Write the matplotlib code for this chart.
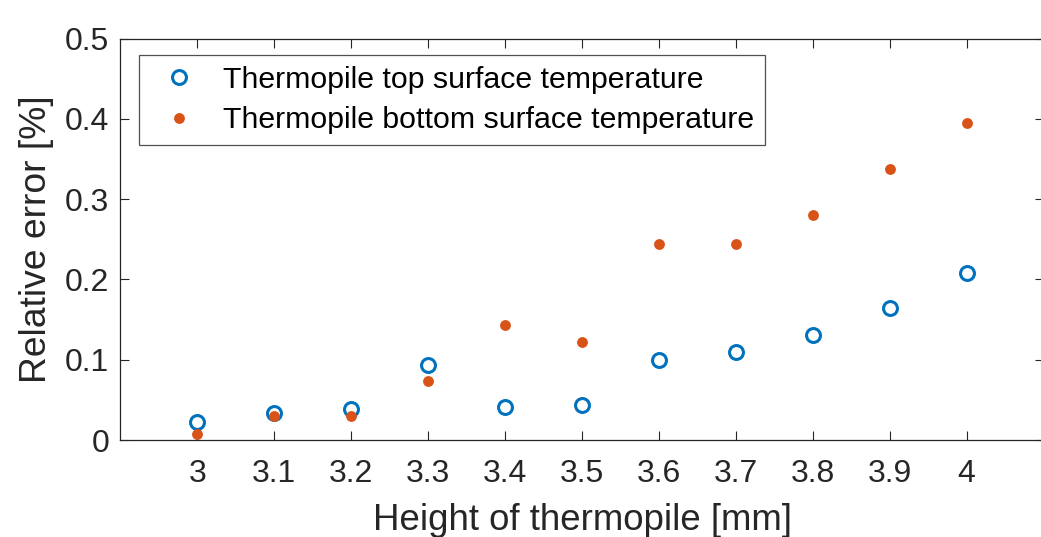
import matplotlib
matplotlib.use("Agg")

import matplotlib.pyplot as plt
import numpy as np

height_mm = [3.0, 3.1, 3.2, 3.3, 3.4, 3.5, 3.6, 3.7, 3.8, 3.9, 4.0]
err_top = [0.023, 0.034, 0.039, 0.093, 0.041, 0.043, 0.100, 0.110, 0.131, 0.164, 0.208]
err_bottom = [0.008, 0.030, 0.030, 0.073, 0.143, 0.122, 0.244, 0.244, 0.280, 0.338, 0.395]

x_ticks = [3.0, 3.1, 3.2, 3.3, 3.4, 3.5, 3.6, 3.7, 3.8, 3.9, 4.0]
x_tick_labels = ["3", "3.1", "3.2", "3.3", "3.4", "3.5", "3.6", "3.7", "3.8", "3.9", "4"]
y_ticks = [0, 0.1, 0.2, 0.3, 0.4, 0.5]
y_tick_labels = ["0", "0.1", "0.2", "0.3", "0.4", "0.5"]

plt.rcParams["font.family"] = ["Liberation Sans", "DejaVu Sans"]

W, H = 1041, 537
fig = plt.figure(figsize=(W / 100, H / 100), dpi=100)
ax = fig.add_axes([120.4 / W, 1 - 440 / H, 923.2 / W, 401.5 / H])

blue = "#0072BD"
orange = "#D95319"
axcol = "#262626"

ax.plot(height_mm, err_top, linestyle="none", marker="o", markersize=10,
        markerfacecolor="none", markeredgecolor=blue, markeredgewidth=2.2,
        label="Thermopile top surface temperature", clip_on=False)
ax.plot(height_mm, err_bottom, linestyle="none", marker="o", markersize=7.8,
        markerfacecolor=orange, markeredgecolor=orange, markeredgewidth=0,
        label="Thermopile bottom surface temperature", clip_on=False)

ax.set_xlim(2.9, 4.1)
ax.set_ylim(0, 0.5)
ax.set_xticks(x_ticks)
ax.set_xticklabels(x_tick_labels)
ax.set_yticks(y_ticks)
ax.set_yticklabels(y_tick_labels)

ax.tick_params(direction="in", length=6.5, width=0.8, color=axcol,
               labelsize=23, labelcolor=axcol, top=True, right=True)
ax.tick_params(axis="x", pad=14)
ax.tick_params(axis="y", pad=8)
for s in ax.spines.values():
    s.set_color(axcol)
    s.set_linewidth(0.9)
ax.spines["right"].set_visible(False)

ax.set_xlabel("Height of thermopile [mm]", fontsize=26.4, color=axcol, labelpad=9.5)
ax.set_ylabel("Relative error [%]", fontsize=26.8, color=axcol, labelpad=8)

leg = ax.legend(loc="upper left", bbox_to_anchor=(139 / W, 1 - 55 / H),
                bbox_transform=fig.transFigure, fontsize=21.8, frameon=True,
                fancybox=False, edgecolor=axcol, borderpad=0.35,
                labelspacing=0.42, handletextpad=0.45, handlelength=1.97,
                borderaxespad=0)
leg.get_frame().set_linewidth(0.9)

fig.savefig("out.png", dpi=100)
